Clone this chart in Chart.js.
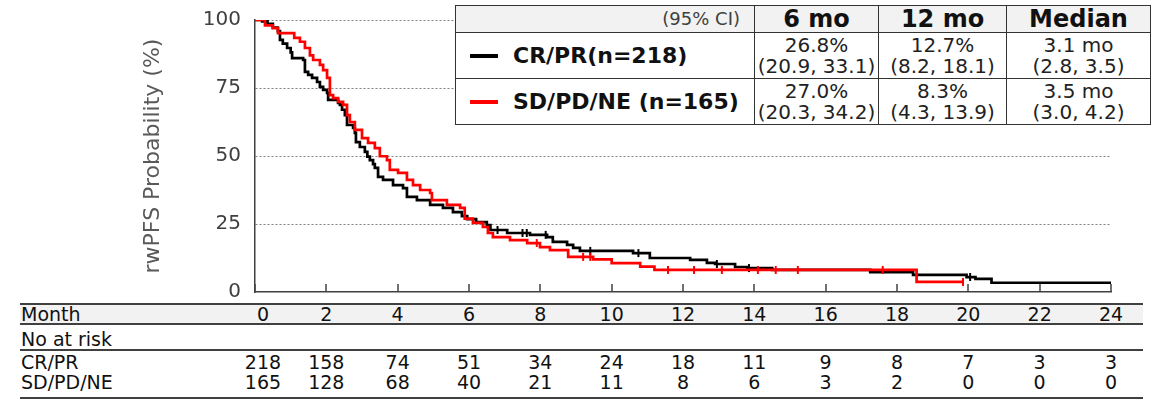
<!DOCTYPE html>
<html>
<head>
<meta charset="utf-8">
<script src="https://cdn.jsdelivr.net/npm/chart.js@4.4.1/dist/chart.umd.min.js"></script>
<style>
  body { margin: 0; width: 1163px; height: 400px; background: #fff; position: relative; overflow: hidden;
         font-family: "DejaVu Sans", Verdana, sans-serif; color: #111; }
  #chartBox { position: absolute; left: 0; top: 0; width: 1163px; height: 300px; }
  #legendTable { position: absolute; left: 455px; top: 5px; border-collapse: collapse; background: #fff; }
  #legendTable td { border: 1.5px solid #333; padding: 0; text-align: center; }
  #legendTable tr.head td { height: 26px; background: #f2f2f2; font-weight: bold; font-size: 24px; line-height: 26px; }
  #legendTable tr.head td.ci { font-weight: normal; font-size: 18px; color: #404040; text-align: right; padding-right: 14px; }
  #legendTable tr.body td { height: 45px; font-size: 20px; line-height: 21px; color: #222; }
  #legendTable tr.body td.lab { text-align: left; font-weight: bold; font-size: 22px; color: #111; }
  .swatch { display: inline-block; width: 28px; height: 4px; margin: 0 15px 2px 14px; vertical-align: middle; }
  #risk { position: absolute; left: 20px; top: 303px; width: 1123px; height: 96px; font-size: 19px; }
  #risk .ln { position: absolute; left: 0; width: 1123px; background: #404040; }
  #risk .lab, #risk .num { position: absolute; line-height: 20px; white-space: nowrap; }
  #risk .num { transform: translateX(-50%); }
</style>
</head>
<body>
<div id="chartBox"><canvas id="km" width="1163" height="300"></canvas></div>
<table id="legendTable"></table>
<div id="risk"></div>
<script>
// x ticks (months) and y ticks (%)
const monthTicks = [0, 2, 4, 6, 8, 10, 12, 14, 16, 18, 20, 22, 24];
const pctTicks = [0, 25, 50, 75, 100];

// CR/PR curve
const crprTime = [0, 0.2, 0.35, 0.5, 0.64, 0.7, 0.78, 0.9, 1.0, 1.04, 1.35, 1.4, 1.49, 1.6, 1.74, 1.82, 1.91, 2.02, 2.05,
  2.33, 2.38, 2.44, 2.52, 2.58, 2.75, 2.8, 2.83, 2.94, 3.08, 3.15, 3.22, 3.31, 3.36, 3.45, 3.59, 3.87, 4.15, 4.26, 4.54,
  4.91, 5.27, 5.55, 5.8, 5.95, 6.2, 6.5, 6.6, 7.07, 7.71, 8.19, 8.35, 8.75, 8.92, 9.11, 10.6, 11.07, 12.2, 12.67, 12.9,
  13.46, 13.8, 14.5, 17.25, 18.45, 19.95, 20.2, 20.65, 24];
const crprSurv = [100, 99.5, 98.6, 97.2, 95.9, 92.7, 91.3, 89.7, 88.1, 86.0, 85.3, 80.9, 79.8, 78.7, 77.2, 75.4, 74.3, 73.2, 70.6,
  69.5, 68.8, 67.0, 65.0, 61.4, 60.3, 58.5, 55.1, 53.3, 51.5, 49.8, 48.5, 47.0, 45.6, 42.3, 41.2, 39.3, 38.2, 35.0, 33.8,
  32.0, 30.9, 29.4, 27.9, 26.8, 25.7, 24.6, 22.8, 21.7, 21.0, 20.2, 18.4, 17.3, 16.2, 15.1, 14.3, 12.5, 11.8, 10.7, 10.3,
  9.2, 8.8, 8.1, 7.3, 6.3, 5.5, 4.8, 3.4, 3.4];
const crprCensorTime = [6.8, 7.5, 7.62, 8.15, 9.4, 10.75, 12.95, 13.85, 20.05];
const crprCensorSurv = [22.8, 21.7, 21.7, 21.0, 15.1, 14.3, 10.3, 8.8, 5.5];

// SD/PD/NE curve
const sdpdTime = [0, 0.28, 0.5, 0.645, 1.1, 1.26, 1.4, 1.54, 1.63, 1.82, 1.91, 2.02, 2.1, 2.19, 2.33, 2.47, 2.58, 2.66,
  2.8, 3.0, 3.17, 3.36, 3.5, 3.7, 3.78, 4.01, 4.26, 4.43, 4.63, 4.91, 4.96, 5.38, 5.75, 5.88, 6.11, 6.39, 6.53, 6.67,
  7.15, 7.63, 7.99, 8.27, 8.78, 9.48, 10.0, 10.8, 11.2, 18.55, 19.85];
const sdpdSurv = [100, 98.0, 97.0, 95.2, 93.4, 92.0, 89.7, 87.0, 85.3, 83.5, 81.6, 78.7, 72.4, 71.3, 69.9, 68.8, 65.0, 62.5,
  59.6, 56.6, 54.8, 52.9, 49.9, 48.5, 44.9, 43.8, 41.2, 39.3, 37.5, 36.4, 33.8, 32.0, 30.9, 27.0, 25.4, 23.9, 21.7, 20.2,
  19.1, 18.0, 16.5, 15.4, 12.9, 12.0, 10.6, 9.3, 8.1, 3.7, 3.7];
const sdpdCensorTime = [7.9, 9.2, 9.4, 11.58, 12.31, 13.09, 14.1, 14.6, 15.22, 17.6, 19.85];
const sdpdCensorSurv = [18.0, 12.9, 12.9, 8.1, 8.1, 8.1, 8.1, 8.1, 8.1, 8.1, 3.7];

// summary table
const statHeads = ["6 mo", "12 mo", "Median"];
const crprStats = [["26.8%", "(20.9, 33.1)"], ["12.7%", "(8.2, 18.1)"], ["3.1 mo", "(2.8, 3.5)"]];
const sdpdStats = [["27.0%", "(20.3, 34.2)"], ["8.3%", "(4.3, 13.9)"], ["3.5 mo", "(3.0, 4.2)"]];

// number at risk
const riskCrpr = [218, 158, 74, 51, 34, 24, 18, 11, 9, 8, 7, 3, 3];
const riskSdpd = [165, 128, 68, 40, 21, 11, 8, 6, 3, 2, 0, 0, 0];

const BLACK = "#000000", RED = "#ff0000";

const toPts = (t, s) => t.map((v, i) => ({x: v, y: s[i]}));

//Small upward tick marks on the x axis
const innerTicks = {
    id: "innerTicks",
    afterDatasetsDraw(chart){
        const {ctx, chartArea, scales: {x}} = chart;
        ctx.save();
        ctx.strokeStyle = "#404040";
        ctx.lineWidth = 1.5;
        x.ticks.forEach(t => {
            let px = Math.round(x.getPixelForValue(t.value));
            ctx.beginPath();
            ctx.moveTo(px, chartArea.bottom);
            ctx.lineTo(px, chartArea.bottom - 8);
            ctx.stroke();
        });
        ctx.restore();
    }
};

const lineSet = (label, t, s, color, order) => ({
    label: label, data: toPts(t, s), borderColor: color, backgroundColor: color,
    borderWidth: 2.7, stepped: "before", pointRadius: 0, tension: 0, fill: false, order: order
});
const censorSet = (label, t, s, color, order) => ({
    label: label, data: toPts(t, s), borderColor: color, backgroundColor: color,
    showLine: false, pointStyle: "line", rotation: 90, pointRadius: 4, pointBorderWidth: 2, order: order
});

const chart = new Chart(document.getElementById("km"), {
    type: "line",
    data: {
        datasets: [
            censorSet("SD/PD/NE censored", sdpdCensorTime, sdpdCensorSurv, RED, 0),
            lineSet("SD/PD/NE (n=165)", sdpdTime, sdpdSurv, RED, 1),
            censorSet("CR/PR censored", crprCensorTime, crprCensorSurv, BLACK, 2),
            lineSet("CR/PR(n=218)", crprTime, crprSurv, BLACK, 3),
        ],
    },
    options: {
        responsive: false,
        animation: false,
        layout: { padding: { left: 137, top: 20, right: 52, bottom: 8 } },
        plugins: { legend: { display: false }, tooltip: { enabled: false } },
        scales: {
            x: {
                type: "linear", min: 0, max: 24,
                afterBuildTicks: s => { s.ticks = monthTicks.map(v => ({value: v})); },
                afterFit: s => { s.height = 0; },
                ticks: { display: false },
                grid: { display: false, drawTicks: false },
                border: { display: true, color: "#404040", width: 1.5 },
            },
            y: {
                min: 0, max: 100,
                afterBuildTicks: s => { s.ticks = pctTicks.map(v => ({value: v})); },
                afterFit: s => { s.width = 118; s.paddingTop = 0; s.paddingBottom = 0; },
                ticks: { padding: 14, color: "#404040", font: { family: "DejaVu Sans", size: 20 } },
                grid: {
                    drawTicks: false, lineWidth: 1,
                    color: c => (c.tick && c.tick.value === 0) ? "rgba(0,0,0,0)" : "#808080",
                },
                border: { display: true, color: "#404040", width: 1.5, dash: [2, 2] },
                title: {
                    display: true, text: "rwPFS Probability (%)", color: "#595959",
                    font: { family: "DejaVu Sans", size: 22 }, padding: 3,
                },
            },
        },
    },
    plugins: [innerTicks],
});

//Summary table in the upper right
function buildLegend(){
    let tbl = document.getElementById("legendTable");
    let colW = [298, 123, 127, 143];
    let head = `<tr class="head"><td class="ci" style="width:${colW[0] - 14}px">(95% CI)</td>` +
        statHeads.map((h, i) => `<td style="width:${colW[i + 1]}px">${h}</td>`).join("") + "</tr>";
    let row = (label, color, stats) => `<tr class="body"><td class="lab"><span class="swatch" style="background:${color}"></span>${label}</td>` +
        stats.map(s => `<td>${s[0]}<br>${s[1]}</td>`).join("") + "</tr>";
    tbl.innerHTML = head + row("CR/PR(n=218)", BLACK, crprStats) + row("SD/PD/NE (n=165)", RED, sdpdStats);
}

//Number-at-risk table under the chart, columns placed from the x scale
function buildRisk(){
    let box = document.getElementById("risk");
    let x = chart.scales.x;
    let html = "";
    html += `<div style="position:absolute;left:0;top:1px;width:1123px;height:19px;background:#f2f2f2"></div>`;
    [[0, 2], [20, 2], [46, 2], [94, 1.5]].forEach(l => {
        html += `<div class="ln" style="top:${l[0]}px;height:${l[1]}px"></div>`;
    });
    [["Month", 1], ["No at risk", 26], ["CR/PR", 49], ["SD/PD/NE", 69]].forEach(r => {
        html += `<div class="lab" style="left:1px;top:${r[1]}px">${r[0]}</div>`;
    });
    monthTicks.forEach((m, i) => {
        let px = x.getPixelForValue(m) - 20 + (i === 0 ? 8 : 0);
        html += `<div class="num" style="left:${px}px;top:1px">${m}</div>`;
        html += `<div class="num" style="left:${px}px;top:49px">${riskCrpr[i]}</div>`;
        html += `<div class="num" style="left:${px}px;top:69px">${riskSdpd[i]}</div>`;
    });
    box.innerHTML = html;
}

buildLegend();
buildRisk();
</script>
</body>
</html>
